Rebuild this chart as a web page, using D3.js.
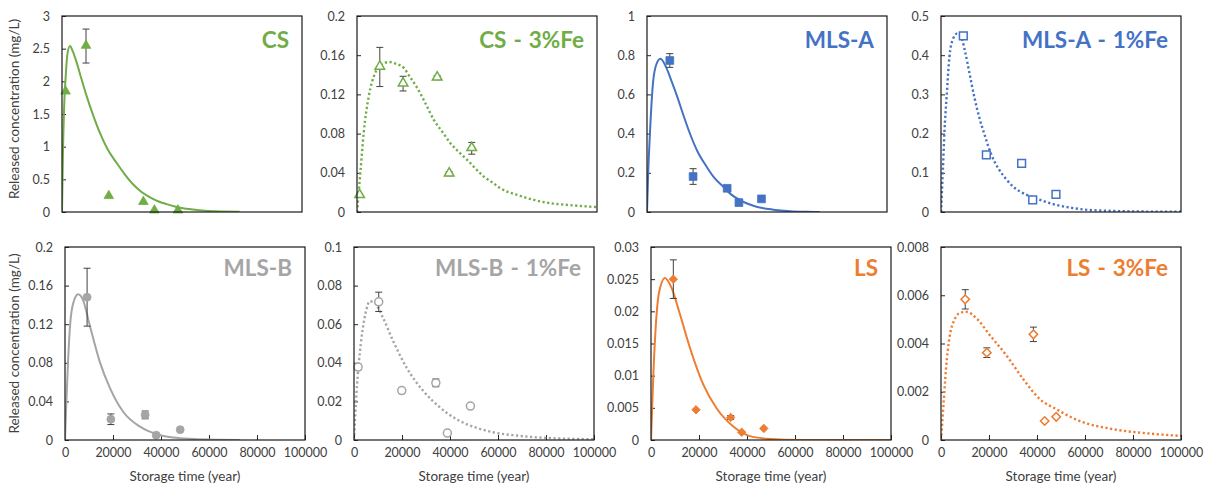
<!DOCTYPE html>
<html><head><meta charset="utf-8">
<script src="https://cdn.jsdelivr.net/npm/d3@7"></script>
<style>
body{margin:0;background:#fff}
svg{display:block}
text{font-family:Lato,"Open Sans",sans-serif}
</style>
</head><body>
<svg id="chart" width="1210" height="491"></svg>
<script>
// ---------------- DATA ----------------
const panelNames = ["CS", "CS - 3%Fe", "MLS-A", "MLS-A - 1%Fe", "MLS-B", "MLS-B - 1%Fe", "LS", "LS - 3%Fe"];
const xTicks = [0, 20000, 40000, 60000, 80000, 100000];
const xTickLabels = ["0", "20000", "40000", "60000", "80000", "100000"];
const yMaxes = [3, 0.2, 1, 0.5, 0.2, 0.1, 0.03, 0.008];
const yTicksCS = [0, 0.5, 1, 1.5, 2, 2.5, 3];
const yTicksCSFe = [0, 0.04, 0.08, 0.12, 0.16, 0.2];
const yTicksMLSA = [0, 0.2, 0.4, 0.6, 0.8, 1];
const yTicksMLSAFe = [0, 0.1, 0.2, 0.3, 0.4, 0.5];
const yTicksMLSB = [0, 0.04, 0.08, 0.12, 0.16, 0.2];
const yTicksMLSBFe = [0, 0.02, 0.04, 0.06, 0.08, 0.1];
const yTicksLS = [0, 0.005, 0.01, 0.015, 0.02, 0.025, 0.03];
const yTicksLSFe = [0, 0.002, 0.004, 0.006, 0.008];

// measured points (time in years, concentration mg/L, error)
const csTime = [1500, 10000, 19500, 33900, 38500, 48300];
const csConc = [1.84, 2.54, 0.24, 0.15, 0.02, 0.02];
const csErr  = [0, 0.26, 0, 0, 0, 0];
const csFeTime = [1100, 9500, 19200, 33400, 38400, 47800];
const csFeConc = [0.017, 0.148, 0.131, 0.137, 0.039, 0.065];
const csFeErr  = [0, 0.02, 0.0075, 0.002, 0.002, 0.006];
const mlsaTime = [9500, 19200, 33400, 38300, 47700];
const mlsaConc = [0.773, 0.181, 0.121, 0.048, 0.067];
const mlsaErr  = [0.035, 0.04, 0.01, 0, 0];
const mlsaFeTime = [9300, 18900, 33600, 38200, 47900];
const mlsaFeConc = [0.449, 0.146, 0.124, 0.031, 0.045];
const mlsaFeErr  = [0, 0, 0, 0, 0];
const mlsbTime = [9200, 19100, 33400, 38000, 48000];
const mlsbConc = [0.148, 0.0215, 0.026, 0.005, 0.0107];
const mlsbErr  = [0.03, 0.0055, 0.004, 0, 0];
const mlsbFeTime = [1700, 10300, 19900, 34100, 38900, 48500];
const mlsbFeConc = [0.0378, 0.0716, 0.0256, 0.0296, 0.0036, 0.0176];
const mlsbFeErr  = [0.0015, 0.005, 0.0012, 0.002, 0, 0];
const lsTime = [9300, 18750, 33200, 37800, 47000];
const lsConc = [0.025, 0.0047, 0.0035, 0.0012, 0.0018];
const lsErr  = [0.003, 0, 0.0003, 0, 0];
const lsFeTime = [10100, 19100, 38500, 43200, 48000];
const lsFeConc = [0.00583, 0.00362, 0.00438, 0.00079, 0.00096];
const lsFeErr  = [0.0004, 0.0002, 0.0003, 0, 0];

// model curves
const csFitT = [0, 400, 1000, 1500, 2200, 3300, 4500, 6100, 8000, 10300, 13000, 15800, 19000, 22800, 26000, 29700, 33000, 36700, 40000, 43600, 47000, 50500, 57500, 64000, 74000];
const csFitC = [0, 0.9, 1.72, 2.05, 2.4, 2.54, 2.46, 2.29, 2.05, 1.77, 1.48, 1.21, 0.96, 0.75, 0.585, 0.42, 0.31, 0.225, 0.165, 0.12, 0.085, 0.058, 0.028, 0.01, 0.003];
const csFeFitT = [0, 1400, 2800, 4900, 7600, 10500, 13600, 16500, 19500, 22000, 25000, 28500, 32000, 35500, 39000, 42500, 46000, 49500, 52900, 56500, 59900, 66800, 73800, 80800, 87800, 94000, 100000];
const csFeFitC = [0, 0.040, 0.081, 0.118, 0.142, 0.151, 0.153, 0.151, 0.147, 0.138, 0.127, 0.111, 0.094, 0.082, 0.070, 0.061, 0.053, 0.044, 0.036, 0.030, 0.024, 0.0174, 0.0123, 0.0089, 0.0072, 0.006, 0.005];
const mlsaFitT = [0, 500, 1100, 2500, 3900, 5600, 8100, 10000, 12300, 15000, 17800, 21000, 24800, 28000, 31700, 35000, 38700, 42000, 45600, 52600, 59600, 66000, 72000];
const mlsaFitC = [0, 0.2, 0.369, 0.659, 0.753, 0.782, 0.735, 0.675, 0.599, 0.5, 0.403, 0.31, 0.232, 0.175, 0.13, 0.09, 0.061, 0.042, 0.027, 0.012, 0.004, 0.001, 0];
const mlsaFeFitT = [0, 800, 1400, 2400, 3500, 4900, 6700, 8500, 10000, 12000, 14000, 16000, 18000, 21000, 24000, 27000, 30000, 33000, 36000, 40000, 44000, 48000, 54000, 60000, 70000, 80000, 100000];
const mlsaFeFitC = [0, 0.11, 0.2, 0.3, 0.395, 0.44, 0.455, 0.445, 0.41, 0.35, 0.29, 0.24, 0.2, 0.146, 0.11, 0.085, 0.065, 0.052, 0.043, 0.034, 0.025, 0.018, 0.011, 0.006, 0.003, 0.0015, 0.0005];
const mlsbFitT = [0, 580, 1260, 2250, 3640, 5440, 7530, 10300, 14500, 18700, 24300, 31300, 38200, 45100, 53500, 63000, 73000];
const mlsbFitC = [0, 0.040, 0.081, 0.123, 0.1435, 0.151, 0.145, 0.119, 0.081, 0.054, 0.029, 0.0138, 0.006, 0.0025, 0.001, 0.0003, 0];
const mlsbFeFitT = [0, 1000, 2100, 3500, 5170, 6550, 8640, 12100, 16300, 21900, 28800, 35800, 42700, 49700, 58000, 67700, 81600, 100000];
const mlsbFeFitC = [0, 0.0237, 0.041, 0.0564, 0.0676, 0.0719, 0.071, 0.0633, 0.0513, 0.0375, 0.0255, 0.0169, 0.0108, 0.0069, 0.004, 0.0023, 0.001, 0.0004];
const lsFitT = [0, 970, 1940, 3330, 5830, 8610, 12100, 16250, 21800, 27400, 34300, 41250, 48200, 56000, 70000, 100000];
const lsFitC = [0, 0.0101, 0.0174, 0.0229, 0.0252, 0.0236, 0.0195, 0.0143, 0.0086, 0.0049, 0.0021, 0.0006, 0.0002, 0.00005, 0, 0];
const lsFeFitT = [0, 1100, 2080, 3460, 5540, 8300, 10800, 14800, 20400, 27300, 34200, 41100, 48000, 57700, 71600, 85500, 100000];
const lsFeFitC = [0, 0.00156, 0.00295, 0.0042, 0.00497, 0.00529, 0.00531, 0.00504, 0.00434, 0.0035, 0.00253, 0.0017, 0.00128, 0.00079, 0.00045, 0.00028, 0.00017];

// ---------------- STYLE / LAYOUT ----------------
const green = "#70AD47", blue = "#4472C4", gray = "#A5A5A5", orange = "#ED7D31";
const panelColors = [green, green, blue, blue, gray, gray, orange, orange];
const panelSymbols = ["triangle", "triangle", "square", "square", "circle", "circle", "diamond", "diamond"];
const panelFilled = [true, false, true, false, true, false, true, false];
const panelDotted = [false, true, false, true, false, true, false, true];
const rowTops = [16, 247], rowBottoms = [212, 440];
const colLefts = [[62, 357, 647, 941], [65, 354, 651, 941]];
const plotW = 240;

const panelTicks = [yTicksCS, yTicksCSFe, yTicksMLSA, yTicksMLSAFe, yTicksMLSB, yTicksMLSBFe, yTicksLS, yTicksLSFe];
const panelPts = [
  [csTime, csConc, csErr], [csFeTime, csFeConc, csFeErr], [mlsaTime, mlsaConc, mlsaErr], [mlsaFeTime, mlsaFeConc, mlsaFeErr],
  [mlsbTime, mlsbConc, mlsbErr], [mlsbFeTime, mlsbFeConc, mlsbFeErr], [lsTime, lsConc, lsErr], [lsFeTime, lsFeConc, lsFeErr]];
const panelFits = [
  [csFitT, csFitC], [csFeFitT, csFeFitC], [mlsaFitT, mlsaFitC], [mlsaFeFitT, mlsaFeFitC],
  [mlsbFitT, mlsbFitC], [mlsbFeFitT, mlsbFeFitC], [lsFitT, lsFitC], [lsFeFitT, lsFeFitC]];

const svg = d3.select("#chart");
const textCol = "#404040";

const symbolOf = {
  triangle: d3.symbol(d3.symbolTriangle, 40),
  square: d3.symbol(d3.symbolSquare, 60),
  circle: d3.symbol(d3.symbolCircle, 50),
  diamond: d3.symbol(d3.symbolSquare, 36)
};

panelNames.forEach((name, i) => {
  const row = Math.floor(i / 4), col = i % 4;
  const left = colLefts[row][col], top = rowTops[row], bottom = rowBottoms[row];
  const x = d3.scaleLinear().domain([0, 100000]).range([left, left + plotW]);
  const y = d3.scaleLinear().domain([0, yMaxes[i]]).range([bottom, top]);
  const color = panelColors[i];
  const g = svg.append("g");

  // y axis
  const ya = g.append("g").attr("transform", `translate(${left},0)`)
    .call(d3.axisLeft(y).tickValues(panelTicks[i]).tickSize(-4).tickPadding(12).tickFormat(d => String(+d.toFixed(4))));
  ya.select(".domain").remove();
  ya.selectAll("line").attr("stroke", "#262626");
  ya.selectAll("text").attr("fill", textCol).style("font-size", "12.5px").style("font-family", "Lato, sans-serif");

  // x axis (bottom row only shows ticks & labels)
  if (row === 1) {
    const xa = g.append("g").attr("transform", `translate(0,${bottom})`)
      .call(d3.axisBottom(x).tickValues(xTicks).tickSize(-5).tickPadding(8).tickFormat((d, k) => xTickLabels[k]));
    xa.select(".domain").remove();
    xa.selectAll("line").attr("stroke", "#262626");
    xa.selectAll("text").attr("fill", textCol).style("font-size", "12.5px").style("font-family", "Lato, sans-serif");
    g.append("text").attr("x", left + plotW / 2).attr("y", 481).attr("text-anchor", "middle")
      .attr("fill", textCol).style("font-size", "13.5px").text("Storage time (year)");
  }

  // clip
  const clipId = "clip" + i;
  svg.append("clipPath").attr("id", clipId).append("rect")
    .attr("x", left).attr("y", top - 2).attr("width", plotW).attr("height", bottom - top + 2);

  // fitted curve
  const [ft, fc] = panelFits[i];
  const line = d3.line().x(d => x(d[0])).y(d => y(d[1])).curve(d3.curveMonotoneX);
  const path = g.append("path").datum(ft.map((t, k) => [t, fc[k]]))
    .attr("d", line).attr("fill", "none").attr("stroke", color)
    .attr("clip-path", `url(#${clipId})`);
  if (panelDotted[i]) path.attr("stroke-width", 2.4).attr("stroke-dasharray", "2.2 2.5");
  else path.attr("stroke-width", 2);

  // error bars
  const [pt, pc, pe] = panelPts[i];
  const pts = pt.map((t, k) => ({t, c: pc[k], e: pe[k]}));
  const eb = g.append("g").attr("stroke", "#404040").attr("stroke-width", 1);
  pts.filter(d => d.e > 0).forEach(d => {
    const cx = x(d.t);
    eb.append("line").attr("x1", cx).attr("x2", cx).attr("y1", y(d.c - d.e)).attr("y2", y(d.c + d.e));
    eb.append("line").attr("x1", cx - 3.5).attr("x2", cx + 3.5).attr("y1", y(d.c - d.e)).attr("y2", y(d.c - d.e));
    eb.append("line").attr("x1", cx - 3.5).attr("x2", cx + 3.5).attr("y1", y(d.c + d.e)).attr("y2", y(d.c + d.e));
  });

  // markers
  const sym = panelSymbols[i];
  g.append("g").selectAll("path").data(pts).join("path")
    .attr("d", symbolOf[sym])
    .attr("transform", d => `translate(${x(d.t)},${y(d.c)})` + (sym === "diamond" ? " rotate(45)" : "") + (sym === "triangle" ? " translate(0,-0.5)" : ""))
    .attr("fill", panelFilled[i] ? color : "#fff")
    .attr("stroke", color)
    .attr("stroke-width", panelFilled[i] ? 0.8 : 1.5);

  // frame
  g.append("rect").attr("x", left).attr("y", top).attr("width", plotW).attr("height", bottom - top)
    .attr("fill", "none").attr("stroke", "#1a1a1a").attr("stroke-width", 1.2);

  // title
  g.append("text").attr("x", left + plotW - 13).attr("y", top + (row === 0 ? 32 : 29))
    .attr("text-anchor", "end").attr("fill", color)
    .style("font-size", "22.5px").style("font-weight", "bold").style("word-spacing", "1.5px").text(name);
});

// y-axis titles
[0, 1].forEach(row => {
  const cy = (rowTops[row] + rowBottoms[row]) / 2 - (row === 0 ? 5 : 0);
  svg.append("text").attr("transform", `translate(19,${cy}) rotate(-90)`)
    .attr("text-anchor", "middle").attr("fill", textCol).style("font-size", "13.5px")
    .text("Released concentration (mg/L)");
});
</script>
</body></html>
